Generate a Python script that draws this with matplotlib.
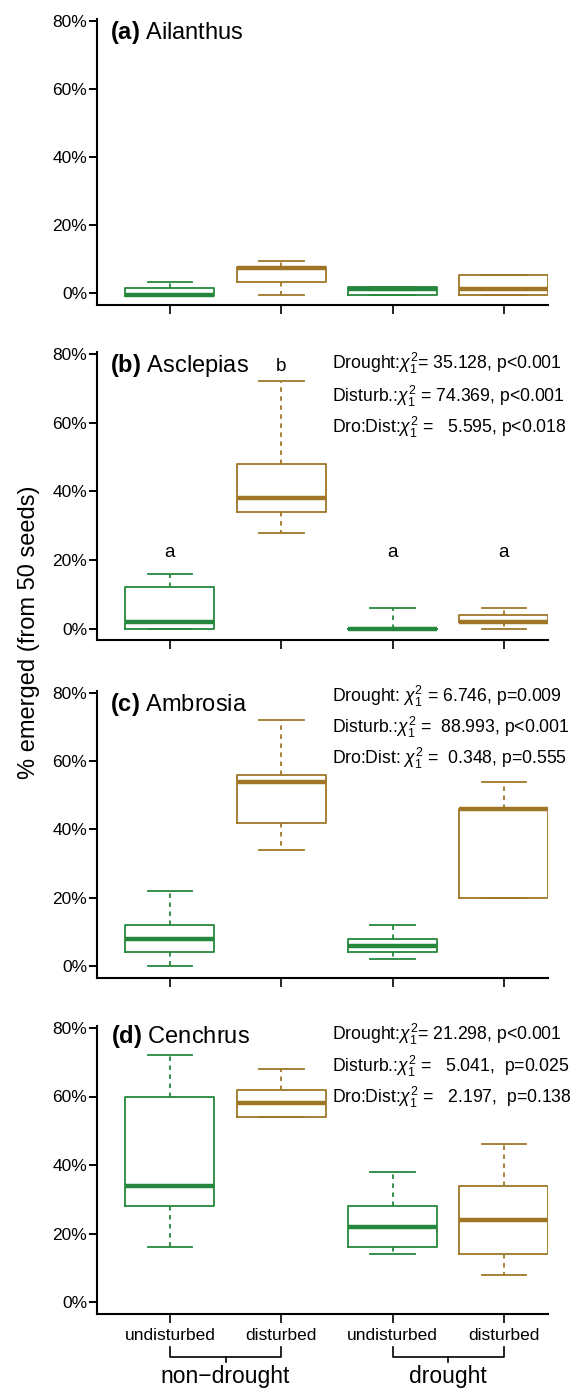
import matplotlib
matplotlib.use('Agg')
import matplotlib.pyplot as plt
from matplotlib.transforms import blended_transform_factory

plt.rcParams['font.family'] = ['Liberation Sans', 'DejaVu Sans']
plt.rcParams['mathtext.fontset'] = 'custom'
plt.rcParams['mathtext.rm'] = 'Liberation Sans'
plt.rcParams['mathtext.it'] = 'Liberation Sans:italic'
plt.rcParams['mathtext.bf'] = 'Liberation Sans:bold'

GREEN = '#25873d'
BROWN = '#9e7626'
BOX_COLORS = [GREEN, BROWN, GREEN, BROWN]

# x 축 그룹 (non-drought: undisturbed/disturbed, drought: undisturbed/disturbed)
GROUPS = ['undisturbed', 'disturbed', 'undisturbed', 'disturbed']
TREATMENTS = ['non\u2212drought', 'drought']
YTICKS = [0, 20, 40, 60, 80]

TAGS = ['(a)', '(b)', '(c)', '(d)']
SPECIES = ['Ailanthus', 'Asclepias', 'Ambrosia', 'Cenchrus']

# 5-number summary per box: (whislo, q1, med, q3, whishi) in %
AILANTHUS = [(-0.8, -0.8, -0.6, 1.5, 3.4), (-0.5, 3.4, 7.3, 7.8, 9.5),
             (-0.6, -0.6, 1.3, 1.8, 1.8), (-0.6, -0.6, 1.4, 5.4, 5.4)]
ASCLEPIAS = [(0, 0, 2, 12, 16), (28, 34, 38, 48, 72),
             (0, 0, 0, 0, 6), (0, 2, 2, 4, 6)]
AMBROSIA = [(0, 4, 8, 12, 22), (34, 42, 54, 56, 72),
            (2, 4, 6, 8, 12), (20, 20, 46, 46, 54)]
CENCHRUS = [(16, 28, 34, 60, 72), (54, 54, 58, 62, 68),
            (14, 16, 22, 28, 38), (8, 14, 24, 34, 46)]
PANELS = [AILANTHUS, ASCLEPIAS, AMBROSIA, CENCHRUS]

# 통계 결과 (chi-square, df=1)
CHI = r'$\chi^2_1$'
STATS = [
    [],
    ['Drought:' + CHI + '= 35.128, p<0.001',
     'Disturb.:' + CHI + ' = 74.369, p<0.001',
     'Dro:Dist:' + CHI + ' =   5.595, p<0.018'],
    ['Drought: ' + CHI + ' = 6.746, p=0.009',
     'Disturb.:' + CHI + ' =  88.993, p<0.001',
     'Dro:Dist: ' + CHI + ' =  0.348, p=0.555'],
    ['Drought:' + CHI + '= 21.298, p<0.001',
     'Disturb.:' + CHI + ' =   5.041,  p=0.025',
     'Dro:Dist:' + CHI + ' =   2.197,  p=0.138'],
]
LETTERS_B = ['a', 'b', 'a', 'a']

# ── layout (pixels of a 583x1389 canvas) ──
W, H = 583, 1389
AX_L, AX_R = 97, 548.3
XLIM = (0.344, 4.4)
ZERO_PX = [293.3, 628.7, 966.0, 1302.0]   # y pixel of 0%
P80_PX = [21.0, 354.0, 692.7, 1028.0]     # y pixel of 80%
YLO, YHI = -3.4, 80.6
TITLE_Y = [74.6, 74.7, 74.6, 75.7]
TITLE_X = [0.461, 0.461, 0.461, 0.474]
STAT_Y = [[], [75.5, 66.1, 57.0], [77.4, 68.3, 59.0], [76.5, 67.2, 58.2]]
STAT_X = 2.453
LETTER_Y = [21.0, 75.1, 21.0, 21.0]

fig = plt.figure(figsize=(W / 100, H / 100), dpi=100)
axes = []
for i, data in enumerate(PANELS):
    sc = (ZERO_PX[i] - P80_PX[i]) / 80.0
    bot = ZERO_PX[i] - YLO * sc
    top = P80_PX[i] - (YHI - 80) * sc
    ax = fig.add_axes([AX_L / W, 1 - bot / H, (AX_R - AX_L) / W, (bot - top) / H])
    axes.append(ax)

    stats = [dict(whislo=s[0], q1=s[1], med=s[2], q3=s[3], whishi=s[4]) for s in data]
    art = ax.bxp(stats, positions=[1, 2, 3, 4], widths=0.8, capwidths=0.4,
                 showfliers=False,
                 boxprops=dict(lw=1.3),
                 whiskerprops=dict(lw=1.3, linestyle=(0, (2.5, 2.5))),
                 capprops=dict(lw=1.3),
                 medianprops=dict(lw=3.2, solid_capstyle='butt'))
    for j, col in enumerate(BOX_COLORS):
        art['boxes'][j].set_color(col)
        art['medians'][j].set_color(col)
        for k in (2 * j, 2 * j + 1):
            art['whiskers'][k].set_color(col)
            art['caps'][k].set_color(col)

    ax.set_xlim(*XLIM)
    ax.set_ylim(YLO, YHI)
    for sp in ('top', 'right'):
        ax.spines[sp].set_visible(False)
    for sp in ('left', 'bottom'):
        ax.spines[sp].set_linewidth(1.5)
    ax.set_yticks(YTICKS)
    ax.set_yticklabels([f'{v}%' for v in YTICKS])
    ax.tick_params(axis='y', length=6, width=1.4, pad=1, labelsize=12.5)
    ax.set_xticks([1, 2, 3, 4])
    if i == 3:
        ax.set_xticklabels(GROUPS)
    else:
        ax.set_xticklabels([])
    ax.tick_params(axis='x', length=6.5, width=1.2, pad=4, labelsize=12.5)

    ax.text(TITLE_X[i], TITLE_Y[i], r'$\mathbf{' + TAGS[i] + '}$ ' + SPECIES[i],
            fontsize=17, ha='left', va='baseline')
    for line, y in zip(STATS[i], STAT_Y[i]):
        ax.text(STAT_X, y, line, fontsize=12.7, ha='left', va='baseline', clip_on=False)

# 다중비교 문자 (b)
for j, (let, y) in enumerate(zip(LETTERS_B, LETTER_Y)):
    axes[1].text(j + 1, y, let, fontsize=13.5, ha='center', va='baseline')

fig.text(28.8 / W, 1 - 632 / H, '% emerged (from 50 seeds)', rotation=90,
         ha='center', va='center', fontsize=17)

# 아래 그룹 브래킷
ax = axes[3]
tr = blended_transform_factory(ax.transData, fig.transFigure)
y_top, y_mid, y_tick = 1 - 1347 / H, 1 - 1357 / H, 1 - 1361.5 / H
for g, name in enumerate(TREATMENTS):
    x0, x1 = 2 * g + 1, 2 * g + 2
    xc = (x0 + x1) / 2
    ax.plot([x0, x0, x1, x1], [y_top, y_mid, y_mid, y_top], color='k', lw=1.2,
            transform=tr, clip_on=False)
    ax.plot([xc, xc], [y_mid, y_tick], color='k', lw=1.2, transform=tr, clip_on=False)
    ax.text(xc, 1 / H, name, transform=tr, ha='center', va='bottom', fontsize=16.5)

fig.savefig('out.png', dpi=100)
